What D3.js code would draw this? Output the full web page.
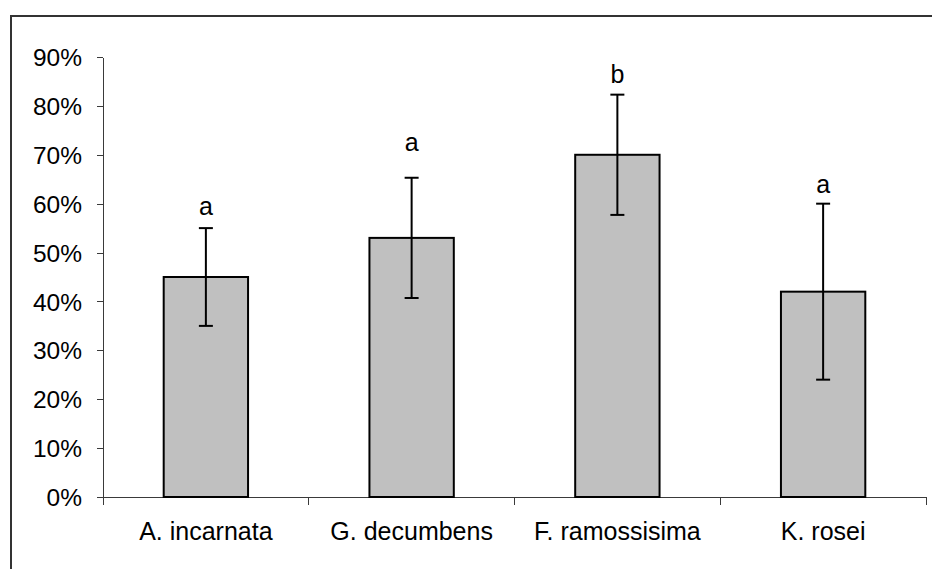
<!DOCTYPE html>
<html>
<head>
<meta charset="utf-8">
<script src="https://cdn.jsdelivr.net/npm/d3@7"></script>
<style>
  body { margin: 0; background: #ffffff; }
  svg text { font-family: "Liberation Sans", Arial, sans-serif; fill: #000; }
  .axis path.domain, .axis line { stroke: #3a3a3a; shape-rendering: crispEdges; }
</style>
</head>
<body>
<div id="chart"></div>
<script>
// categories and values (percent)
const species = ['A. incarnata', 'G. decumbens', 'F. ramossisima', 'K. rosei'];
const means = [45, 53, 70, 42];
const errors = [10, 12.3, 12.3, 18];
const groups = ['a', 'a', 'b', 'a'];
const groupLabelAt = [59.3, 72.4, 86.3, 63.8];
const yTicks = [0, 10, 20, 30, 40, 50, 60, 70, 80, 90];

const W = 932, H = 569;
const margin = { top: 57, right: 6, bottom: 72, left: 103 };
const width = W - margin.left - margin.right,
  height = H - margin.top - margin.bottom;

const svg = d3.select('#chart').append('svg')
  .attr('width', W)
  .attr('height', H);

// outer frame (only top and left edges are visible)
svg.append('path')
  .attr('d', `M11,${H} L11,16 L${W},16`)
  .attr('fill', 'none')
  .attr('stroke', '#333')
  .attr('stroke-width', 2);

const g = svg.append('g')
  .attr('transform', 'translate(' + margin.left + ',' + margin.top + ')');

const x = d3.scaleBand().domain(species).range([0, width]).padding(0);
const y = d3.scaleLinear().domain([0, 90]).range([height, 0]);

const barW = x.bandwidth() * 0.41;

// y axis
g.append('g')
  .attr('class', 'y axis')
  .call(d3.axisLeft(y).tickValues(yTicks).tickSize(6).tickSizeOuter(0).tickPadding(15).tickFormat(d => d + '%'))
  .call(s => s.selectAll('.tick text').attr('font-size', '24.5px').attr('dy', '0.35em'))
  .call(s => s.selectAll('text').attr('font-family', null));

// x axis with ticks at category boundaries
const xa = g.append('g')
  .attr('class', 'x axis')
  .attr('transform', 'translate(0,' + height + ')');
xa.append('line').attr('x1', -6).attr('x2', width).attr('y1', 0).attr('y2', 0);
xa.selectAll('line.bound')
  .data(d3.range(species.length + 1))
  .join('line')
  .attr('class', 'bound')
  .attr('x1', i => i * x.bandwidth())
  .attr('x2', i => i * x.bandwidth())
  .attr('y1', 0).attr('y2', 8);
xa.selectAll('text')
  .data(species)
  .join('text')
  .attr('x', d => x(d) + x.bandwidth() / 2)
  .attr('y', 43)
  .attr('text-anchor', 'middle')
  .attr('font-size', '25px')
  .text(d => d);

// bars
g.selectAll('rect.bar')
  .data(species)
  .join('rect')
  .attr('class', 'bar')
  .attr('x', d => x(d) + (x.bandwidth() - barW) / 2)
  .attr('y', (d, i) => y(means[i]))
  .attr('width', barW)
  .attr('height', (d, i) => y(0) - y(means[i]))
  .attr('fill', '#c0c0c0')
  .attr('stroke', '#000')
  .attr('stroke-width', 2);

// error bars
const eb = g.selectAll('g.err')
  .data(species)
  .join('g')
  .attr('class', 'err')
  .attr('stroke', '#000')
  .attr('stroke-width', 2);
eb.append('line')
  .attr('x1', d => x(d) + x.bandwidth() / 2)
  .attr('x2', d => x(d) + x.bandwidth() / 2)
  .attr('y1', (d, i) => y(means[i] + errors[i]))
  .attr('y2', (d, i) => y(means[i] - errors[i]));
[1, -1].forEach(sign => {
  eb.append('line')
    .attr('x1', d => x(d) + x.bandwidth() / 2 - 7)
    .attr('x2', d => x(d) + x.bandwidth() / 2 + 7)
    .attr('y1', (d, i) => y(means[i] + sign * errors[i]))
    .attr('y2', (d, i) => y(means[i] + sign * errors[i]));
});

// significance letters
g.selectAll('text.grp')
  .data(species)
  .join('text')
  .attr('class', 'grp')
  .attr('x', d => x(d) + x.bandwidth() / 2)
  .attr('y', (d, i) => y(groupLabelAt[i]))
  .attr('dy', '0.3em')
  .attr('text-anchor', 'middle')
  .attr('font-size', '25px')
  .text((d, i) => groups[i]);
</script>
</body>
</html>
